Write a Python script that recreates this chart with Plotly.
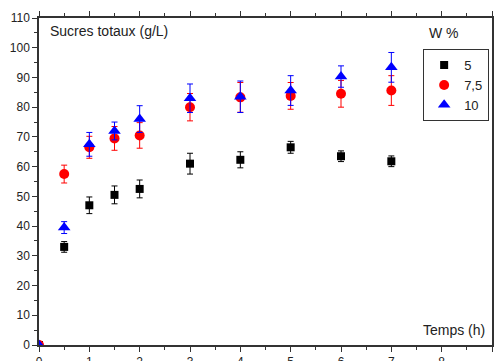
import plotly.graph_objects as go

temps = [0, 0.5, 1, 1.5, 2, 3, 4, 5, 6, 7]
w5 = [0, 33.0, 47.0, 50.5, 52.5, 61.0, 62.3, 66.5, 63.5, 61.8]
w5_err = [0, 1.8, 2.8, 3.0, 3.0, 3.5, 2.7, 2.0, 1.8, 1.8]
w75 = [0, 57.5, 66.5, 69.5, 70.5, 80.0, 83.3, 83.8, 84.5, 85.6]
w75_err = [0, 3.0, 3.7, 4.0, 4.3, 4.6, 5.0, 4.5, 4.5, 5.0]
w10 = [0, 39.5, 67.5, 72.0, 76.0, 83.0, 83.5, 85.6, 90.3, 93.4]
w10_err = [0, 2.0, 4.0, 3.0, 4.5, 4.8, 5.3, 5.0, 3.6, 5.0]

series = [
    ("5", w5, w5_err, "black", "square", 8),
    ("7,5", w75, w75_err, "red", "circle", 10),
    ("10", w10, w10_err, "blue", "triangle-up", 11),
]

fig = go.Figure()
for name, y, err, col, sym, size in series:
    fig.add_trace(go.Scatter(
        x=temps, y=y, mode="markers", name=name,
        marker=dict(color=col, symbol=sym, size=size),
        error_y=dict(type="data", array=err, color=col, thickness=1, width=3),
    ))

font = dict(family="Liberation Sans, Arial, sans-serif", size=12, color="#222")
axis_common = dict(showline=True, linecolor="#333", linewidth=1.5, mirror="ticks",
                   ticks="outside", ticklen=5, tickcolor="#333", showgrid=False,
                   zeroline=False, tickfont=dict(family=font["family"], size=12, color="#222"),
                   automargin=False)
fig.update_layout(
    width=494, height=361,
    margin=dict(l=39, r=2, t=18, b=16),
    plot_bgcolor="white", paper_bgcolor="white",
    font=font,
    xaxis=dict(range=[0, 9], dtick=1, minor=dict(ticks="outside", ticklen=3, dtick=0.5, tickcolor="#333"), **axis_common),
    yaxis=dict(range=[0, 110], dtick=10, minor=dict(ticks="outside", ticklen=3, dtick=5, tickcolor="#333"), **axis_common),
    legend=dict(x=0.848, y=0.905, xanchor="left", yanchor="top", bordercolor="#333",
                borderwidth=1, bgcolor="white", font=dict(size=13, family=font["family"]),
                itemwidth=30, tracegroupgap=0),
    showlegend=True,
    annotations=[
        dict(text="Sucres totaux (g/L)", x=0.02, y=0.96, xref="paper", yref="paper",
             xanchor="left", yanchor="middle", showarrow=False, font=dict(size=14)),
        dict(text="Temps (h)", x=0.99, y=0.045, xref="paper", yref="paper",
             xanchor="right", yanchor="middle", showarrow=False, font=dict(size=14)),
        dict(text="W %", x=0.895, y=0.955, xref="paper", yref="paper",
             xanchor="center", yanchor="middle", showarrow=False, font=dict(size=14)),
    ],
)
fig.write_html("out.html")
